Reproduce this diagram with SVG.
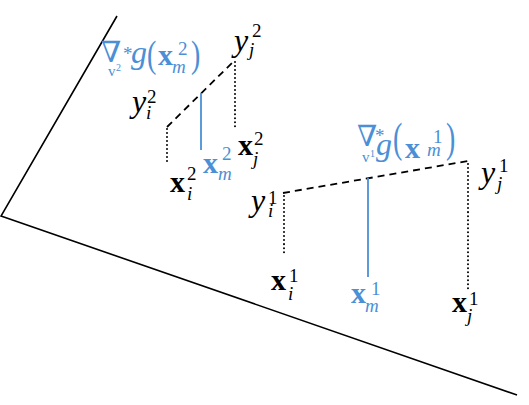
<svg xmlns="http://www.w3.org/2000/svg" width="529" height="405" viewBox="0 0 529 405">
<style>
text{font-family:"Liberation Serif","DejaVu Serif",serif;fill:#000}
.b{fill:#4b8fd6}
.x{font-weight:bold;font-size:30px}
.v{font-style:italic;font-size:32px}
.s{font-size:19px;font-style:normal;font-weight:normal}
.si{font-size:19px;font-style:italic;font-weight:normal}
.nab{font-family:"DejaVu Serif",serif;font-size:29px}
.st{font-size:19px}
.sv{font-size:15px}
.sv2{font-size:10px}
.par{font-size:28px}
.plane{stroke:#000;stroke-width:1.6;fill:none}
.dash{stroke:#000;stroke-width:1.8;stroke-dasharray:7 5;fill:none}
.dot{stroke:#000;stroke-width:2;stroke-dasharray:0.01 4;stroke-linecap:round;fill:none}
.blue{stroke:#4b8fd6;stroke-width:1.8;fill:none}
</style>
<g id="plane">
<polyline class="plane" points="117,16 1,216 517,395"/>
</g>
<g id="connectors">
<line class="dash" x1="167" y1="127" x2="235" y2="60"/>
<line class="dot" x1="167" y1="129" x2="167" y2="165"/>
<line class="dot" x1="235" y1="62" x2="235" y2="128"/>
<line class="blue" x1="201" y1="93" x2="201" y2="150"/>
<line class="dash" x1="283" y1="193" x2="468" y2="161"/>
<line class="dot" x1="284" y1="196" x2="284" y2="253"/>
<line class="dot" x1="468" y1="164" x2="468" y2="289"/>
<line class="blue" x1="368" y1="178" x2="368" y2="277"/>
</g>
<g id="grad2">
<text class="b"><tspan class="nab" x="101" y="62">∇</tspan><tspan class="st" x="123" y="60">*</tspan><tspan class="sv" x="108" y="76">v</tspan><tspan class="sv2" x="116" y="71">2</tspan><tspan class="v" x="131" y="63">g</tspan><tspan class="x" x="158" y="65">x</tspan><tspan class="s" x="178" y="55">2</tspan><tspan class="si" x="172" y="73">m</tspan></text>
<text class="par b" transform="translate(147,67) scale(1,1.35)">(</text>
<text class="par b" transform="translate(191,67) scale(1,1.35)">)</text>
</g>
<g id="y2j">
<text><tspan class="v" x="234" y="51">y</tspan><tspan class="s" x="252" y="37">2</tspan><tspan class="si" x="249" y="56">j</tspan></text>
</g>
<g id="y2i">
<text><tspan class="v" x="132" y="112">y</tspan><tspan class="s" x="147" y="103">2</tspan><tspan class="si" x="146" y="119">i</tspan></text>
</g>
<g id="x2i">
<text><tspan class="x" x="170" y="192">x</tspan><tspan class="s" x="187" y="180">2</tspan><tspan class="si" x="187" y="200">i</tspan></text>
</g>
<g id="x2m">
<text class="b"><tspan class="x" x="203" y="173">x</tspan><tspan class="s" x="222" y="160">2</tspan><tspan class="si" x="218" y="180">m</tspan></text>
</g>
<g id="x2j">
<text><tspan class="x" x="238" y="155">x</tspan><tspan class="s" x="254" y="145">2</tspan><tspan class="si" x="253" y="165">j</tspan></text>
</g>
<g id="grad1">
<text class="b"><tspan class="nab" x="357" y="146">∇</tspan><tspan class="st" x="375" y="142">*</tspan><tspan class="sv" x="362" y="162">v</tspan><tspan class="sv2" x="370" y="157">1</tspan><tspan class="v" x="376" y="155">g</tspan><tspan class="x" x="405" y="158">x</tspan><tspan class="s" x="433" y="143">1</tspan><tspan class="si" x="427" y="156">m</tspan></text>
<text class="par b" transform="translate(393,152) scale(1,1.5)">(</text>
<text class="par b" transform="translate(446,152) scale(1,1.5)">)</text>
</g>
<g id="y1j">
<text><tspan class="v" x="481" y="183">y</tspan><tspan class="s" x="499" y="172">1</tspan><tspan class="si" x="497" y="190">j</tspan></text>
</g>
<g id="y1i">
<text><tspan class="v" x="251" y="211">y</tspan><tspan class="s" x="268" y="204">1</tspan><tspan class="si" x="268" y="217">i</tspan></text>
</g>
<g id="x1i">
<text><tspan class="x" x="271" y="290">x</tspan><tspan class="s" x="289" y="282">1</tspan><tspan class="si" x="288" y="300">i</tspan></text>
</g>
<g id="x1m">
<text class="b"><tspan class="x" x="351" y="303">x</tspan><tspan class="s" x="371" y="295">1</tspan><tspan class="si" x="365" y="312">m</tspan></text>
</g>
<g id="x1j">
<text><tspan class="x" x="452" y="312">x</tspan><tspan class="s" x="469" y="305">1</tspan><tspan class="si" x="467" y="322">j</tspan></text>
</g>
</svg>
